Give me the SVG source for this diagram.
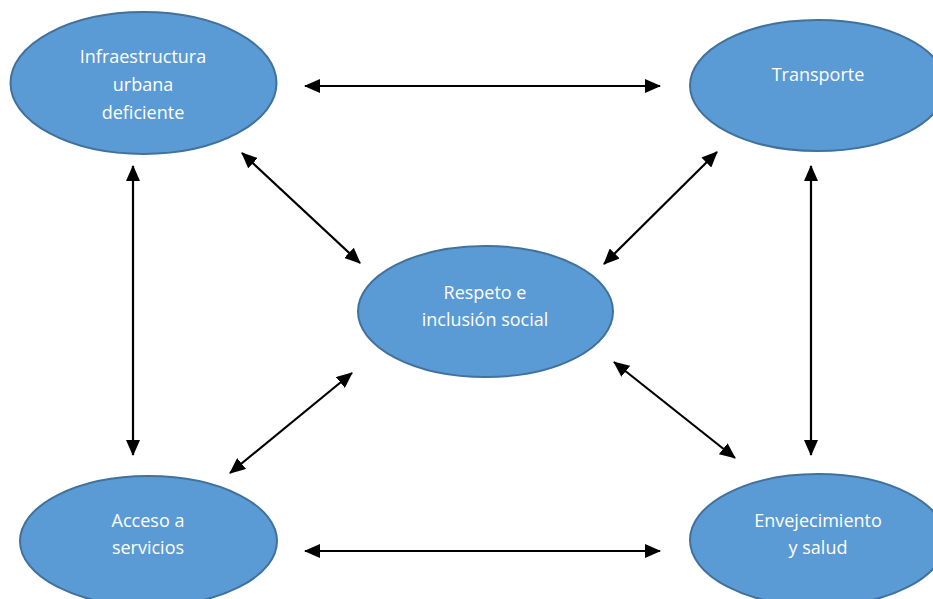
<svg xmlns="http://www.w3.org/2000/svg" width="933" height="599" viewBox="0 0 933 599">
<style>
.node ellipse{fill:#5B9BD5;stroke:#41719C;stroke-width:2}
.node text{fill:#fff;font-family:"Open Sans","Liberation Sans",sans-serif;font-size:18px;text-anchor:middle}
.conn line{stroke:#000;stroke-width:2.2;marker-start:url(#ah);marker-end:url(#ah)}
</style>
<defs>
<marker id="ah" viewBox="0 0 16 14" refX="15" refY="7" markerWidth="16" markerHeight="14" markerUnits="userSpaceOnUse" orient="auto-start-reverse">
<path d="M0,0 L16,7 L0,14 z" fill="#000"/>
</marker>
</defs>
<rect width="933" height="599" fill="#fff"/>
<g id="infraestructura" class="node">
<ellipse cx="143.5" cy="83" rx="133" ry="71"/>
<text x="143" y="63">Infraestructura</text>
<text x="143" y="91">urbana</text>
<text x="143" y="119">deficiente</text>
</g>
<g id="transporte" class="node">
<ellipse cx="818" cy="85.5" rx="128" ry="65.5"/>
<text x="818" y="81">Transporte</text>
</g>
<g id="respeto" class="node">
<ellipse cx="485.5" cy="311.5" rx="127.5" ry="65.5"/>
<text x="485" y="299">Respeto e</text>
<text x="485" y="326">inclusión social</text>
</g>
<g id="acceso" class="node">
<ellipse cx="148.5" cy="541" rx="128.5" ry="65"/>
<text x="148" y="527">Acceso a</text>
<text x="148" y="554">servicios</text>
</g>
<g id="envejecimiento" class="node">
<ellipse cx="818" cy="540" rx="128" ry="66"/>
<text x="818" y="527">Envejecimiento</text>
<text x="818" y="554">y salud</text>
</g>
<g id="connectors" class="conn">
<line x1="305" y1="86" x2="660" y2="86"/>
<line x1="305" y1="551" x2="660" y2="551"/>
<line x1="133" y1="166" x2="133" y2="455"/>
<line x1="811" y1="166" x2="811" y2="455"/>
<line x1="242" y1="153" x2="360" y2="263"/>
<line x1="717" y1="152" x2="604" y2="264"/>
<line x1="352" y1="373" x2="230" y2="473"/>
<line x1="614" y1="362" x2="735" y2="458"/>
</g>
</svg>
